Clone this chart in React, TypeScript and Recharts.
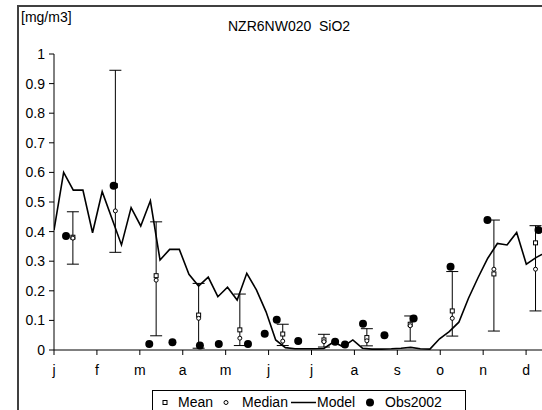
import { ComposedChart, Line, Scatter, ErrorBar, XAxis, YAxis, Legend } from 'recharts';

// months on the x axis (axis unit = 1 month, 0 = start of January)
const months = ['j', 'f', 'm', 'a', 'm', 'j', 'j', 'a', 's', 'o', 'n', 'd'];
const yTicks = [0, 0.1, 0.2, 0.3, 0.4, 0.5, 0.6, 0.7, 0.8, 0.9, 1];

// model output, one value every ~6.8 days
const modelStep = 0.2246;
const modelValues = [
  0.405, 0.6, 0.54, 0.54, 0.396, 0.535, 0.445, 0.355, 0.481, 0.419, 0.504, 0.304, 0.34,
  0.34, 0.256, 0.216, 0.246, 0.18, 0.212, 0.169, 0.259, 0.203, 0.129, 0.034, 0.008, 0.004,
  0.004, 0.004, 0.005, 0.027, 0.011, 0.034, 0.006, 0.003, 0.003, 0.004, 0.006, 0.009, 0.004,
  0.003, 0.038, 0.062, 0.094, 0.175, 0.245, 0.31, 0.36, 0.355, 0.397, 0.29, 0.312, 0.33,
];

// monthly statistics
const statX = [0.44, 1.43, 2.38, 3.37, 4.33, 5.33, 6.29, 7.29, 8.3, 9.28, 10.25, 11.22];
const meanVals = [0.381, 0.555, 0.251, 0.118, 0.068, 0.054, 0.034, 0.042, 0.087, 0.132, 0.257, 0.362];
const medianVals = [0.378, 0.47, 0.236, 0.107, 0.04, 0.03, 0.028, 0.031, 0.082, 0.107, 0.273, 0.273];
const minVals = [0.29, 0.33, 0.048, 0.006, 0.015, 0.015, 0.01, 0.014, 0.03, 0.047, 0.064, 0.132];
const maxVals = [0.467, 0.945, 0.433, 0.225, 0.189, 0.087, 0.053, 0.072, 0.115, 0.265, 0.439, 0.42];

// observations 2002
const obsX = [0.28, 1.39, 2.22, 2.76, 3.4, 3.84, 4.52, 4.91, 5.19, 5.69, 6.55, 6.78, 7.2, 7.7, 8.38, 9.24, 10.1, 11.29];
const obsY = [0.385, 0.555, 0.02, 0.026, 0.015, 0.02, 0.02, 0.055, 0.102, 0.03, 0.028, 0.019, 0.089, 0.05, 0.106, 0.281, 0.439, 0.405];

const modelData = modelValues.map((y, i) => ({ x: i * modelStep, y }));
const meanData = statX.map((x, i) => ({
  x,
  y: meanVals[i],
  err: [meanVals[i] - minVals[i], maxVals[i] - meanVals[i]],
}));
const medianData = statX.map((x, i) => ({ x, y: medianVals[i] }));
const obsData = obsX.map((x, i) => ({ x, y: obsY[i] }));

const font = '"Liberation Sans", Arial, sans-serif';

const MeanShape = (p: any) => (
  <rect x={p.cx - 2} y={p.cy - 2} width={4} height={4} fill="#fff" stroke="#000" strokeWidth={1} />
);
const MedianShape = (p: any) => (
  <circle cx={p.cx} cy={p.cy} r={2} fill="#fff" stroke="#000" strokeWidth={1} />
);
const ObsShape = (p: any) => <circle cx={p.cx} cy={p.cy} r={4} fill="#000" />;

const LegendBox = () => (
  <div style={{ width: 314, height: 26, border: '1px solid #000', boxSizing: 'border-box', background: '#fff' }}>
    <svg width={312} height={24} style={{ display: 'block', fontFamily: font, fontSize: 14 }}>
      <rect x={10} y={9.5} width={4} height={4} fill="#fff" stroke="#000" />
      <text x={25} y={16}>Mean</text>
      <circle cx={73} cy={11.5} r={2} fill="#fff" stroke="#000" />
      <text x={89} y={16}>Median</text>
      <line x1={138} x2={163} y1={11.5} y2={11.5} stroke="#000" strokeWidth={1.5} />
      <text x={164} y={16}>Model</text>
      <circle cx={217} cy={11.5} r={4} fill="#000" />
      <text x={232} y={16}>Obs2002</text>
    </svg>
  </div>
);

export default function App() {
  return (
    <div style={{ position: 'absolute', left: 0, top: 0, width: 542, height: 410, overflow: 'hidden', background: '#fff', fontFamily: font }}>
      <div style={{ position: 'absolute', left: 17, top: 5, width: 600, height: 500, border: '2px solid #404040' }} />
      <div style={{ position: 'absolute', left: 21, top: 9, fontSize: 14, color: '#000' }}>[mg/m3]</div>
      <div style={{ position: 'absolute', left: 228, top: 18, fontSize: 14, color: '#000', whiteSpace: 'pre' }}>NZR6NW020  SiO2</div>
      <div style={{ position: 'absolute', left: 0, top: 0 }}>
        <ComposedChart width={600} height={430} margin={{ top: 54, right: 31, bottom: 50, left: 0 }}>
          <XAxis
            type="number"
            dataKey="x"
            domain={[0, 12]}
            ticks={[0, 1, 2, 3, 4, 5, 6, 7, 8, 9, 10, 11]}
            tickFormatter={(v: number) => months[v]}
            height={30}
            tickSize={5}
            tickMargin={10}
            allowDataOverflow
            stroke="#000"
            tick={{ fill: '#000', fontSize: 14, fontFamily: font }}
          />
          <YAxis
            type="number"
            domain={[0, 1]}
            ticks={yTicks}
            width={54}
            tickSize={5}
            tickMargin={4}
            stroke="#000"
            tick={{ fill: '#000', fontSize: 14, fontFamily: font }}
          />
          <Legend
            layout="horizontal"
            verticalAlign="middle"
            content={LegendBox}
            wrapperStyle={{ position: 'absolute', left: 152, top: 390, width: 314, height: 26 }}
          />
          <Scatter data={meanData} dataKey="y" shape={MeanShape} isAnimationActive={false}>
            <ErrorBar dataKey="err" direction="y" width={6} stroke="#000" strokeWidth={1} />
          </Scatter>
          <Scatter data={medianData} dataKey="y" shape={MedianShape} isAnimationActive={false} />
          <Line
            data={modelData}
            dataKey="y"
            type="linear"
            stroke="#000"
            strokeWidth={1.6}
            dot={false}
            isAnimationActive={false}
          />
          <Scatter data={obsData} dataKey="y" shape={ObsShape} isAnimationActive={false} />
        </ComposedChart>
      </div>
    </div>
  );
}
